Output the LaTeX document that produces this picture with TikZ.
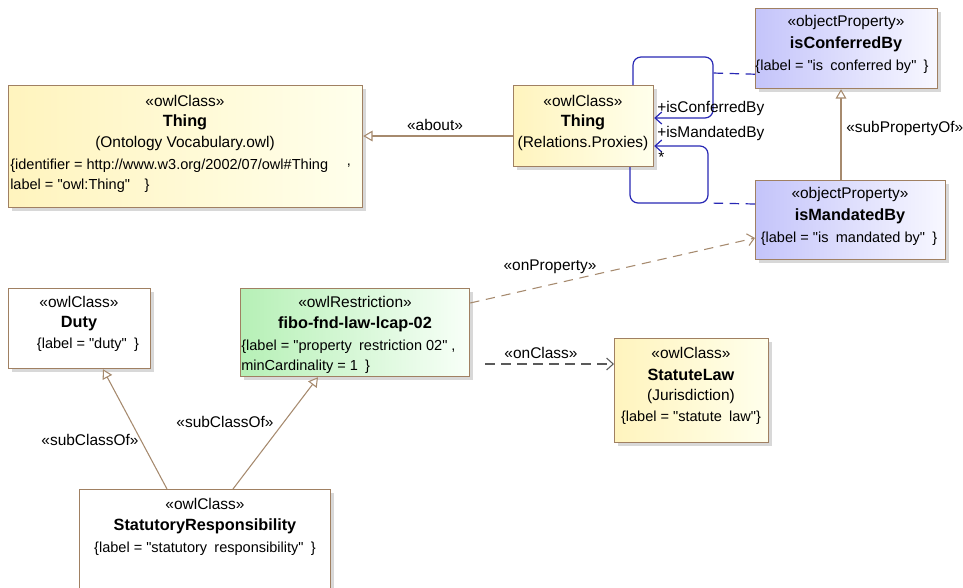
\documentclass[tikz,border=0pt]{standalone}
\usepackage{fontspec}
\setmainfont{Liberation Sans}
\usetikzlibrary{arrows.meta,shadows,calc}
\definecolor{edgec}{RGB}{166,138,110}
\definecolor{boxc}{RGB}{160,128,98}
\definecolor{assoc}{RGB}{40,40,180}
\definecolor{yelL}{RGB}{255,244,190}
\definecolor{yelR}{RGB}{255,255,236}
\definecolor{lavL}{RGB}{196,196,250}
\definecolor{lavR}{RGB}{248,248,255}
\definecolor{grnL}{RGB}{182,240,182}
\definecolor{grnR}{RGB}{248,255,248}
\definecolor{dashc}{RGB}{90,90,90}
\newcommand\dq{\textquotedbl}
\begin{document}
\begin{tikzpicture}[x=0.75pt,y=-0.75pt,
  box/.style={draw=boxc, line width=0.9pt, anchor=north west, inner sep=0pt,
    drop shadow={shadow xshift=2.5pt, shadow yshift=-2.5pt, fill=black!30}},
  sz/.style 2 args={minimum width=#1*0.75pt, minimum height=#2*0.75pt},
  yel/.style={left color=yelL, right color=yelR},
  lav/.style={left color=lavL, right color=lavR},
  grn/.style={left color=grnL, right color=grnR},
  wht/.style={fill=white},
  st/.style={font=\fontsize{11.6}{13}\selectfont, inner sep=0pt},
  nm/.style={font=\fontsize{12.2}{14}\selectfont\bfseries, inner sep=0pt},
  pr/.style={font=\fontsize{10.9}{12}\selectfont, inner sep=0pt},
  lbl/.style={font=\fontsize{11.6}{13}\selectfont, inner sep=0pt},
  gen/.style={draw=edgec, line width=0.8pt, -{Triangle[open,length=7pt,width=8pt,fill=white]}},
  dep/.style={draw=edgec, line width=0.8pt, dash pattern=on 7pt off 5pt, -{Straight Barb[length=5pt,width=9pt]}},
  depg/.style={draw=dashc, line width=0.8pt, dash pattern=on 7pt off 5pt, -{Straight Barb[length=5pt,width=9pt]}},
  asl/.style={draw=assoc, line width=0.9pt, rounded corners=6pt},
  asd/.style={draw=assoc, line width=0.9pt, dash pattern=on 7pt off 5pt},
  asa/.style={-{Straight Barb[length=5pt,width=9pt]}}
]
\useasboundingbox (0,0) rectangle (963,587);

% boxes
\node[box, yel, sz={354}{122}] (thingO) at (8,85) {};
\node[box, yel, sz={140}{81}] (thingP) at (513,85) {};
\node[box, lav, sz={182}{80}] (conf) at (755,8) {};
\node[box, lav, sz={190}{79}] (mand) at (755,180) {};
\node[box, wht, sz={142}{80}] (duty) at (8,288) {};
\node[box, grn, sz={229}{88}] (fibo) at (240,288) {};
\node[box, yel, sz={154}{104}] (stat) at (614,338) {};
\node[box, wht, sz={251}{104}] (sresp) at (79,489) {};

% texts: Thing (Ontology)
\node[st] (tO1) at (185,101) {«owlClass»};
\node[nm] (tO2) at (185,122) {Thing};
\node[st] (tO3) at (185,143) {(Ontology Vocabulary.owl)};
\node[pr, anchor=west] (tO4) at (10,166) {\{identifier = http://www.w3.org/2002/07/owl\#Thing};
\node[pr] (tO5) at (349,166) {,};
\node[pr, anchor=west] (tO6) at (10,186) {label = \dq owl:Thing\dq\quad\}};

% Thing (Relations.Proxies)
\node[st] (tP1) at (583,101) {«owlClass»};
\node[nm] (tP2) at (583,122) {Thing};
\node[st] (tP3) at (583,143) {(Relations.Proxies)};

% isConferredBy
\node[st] (c1) at (846,22) {«objectProperty»};
\node[nm] (c2) at (846,44) {isConferredBy};
\node[pr] (c3) at (842,67) {\{label = \dq is\enspace conferred by\dq\enspace\}};

% isMandatedBy
\node[st] (m1) at (850,194) {«objectProperty»};
\node[nm] (m2) at (850,216) {isMandatedBy};
\node[pr] (m3) at (849,239) {\{label = \dq is\enspace mandated by\dq\enspace\}};

% Duty
\node[st] (d1) at (79,302) {«owlClass»};
\node[nm] (d2) at (79,324) {Duty};
\node[pr] (d3) at (88,345) {\{label = \dq duty\dq\enspace\}};

% fibo restriction
\node[st] (f1) at (355,302) {«owlRestriction»};
\node[nm] (f2) at (355,324) {fibo-fnd-law-lcap-02};
\node[pr, anchor=west] (f3) at (241,347) {\{label = \dq property\enspace restriction 02\dq\ ,};
\node[pr, anchor=west] (f4) at (241,367) {minCardinality = 1\enspace\}};

% Statute Law
\node[st] (s1) at (691,353) {«owlClass»};
\node[nm] (s2) at (691,375) {StatuteLaw};
\node[st] (s3) at (691,396) {(Jurisdiction)};
\node[pr] (s4) at (691,418) {\{label = \dq statute\enspace law\dq\}};

% Statutory responsibility
\node[st] (r1) at (205,504) {«owlClass»};
\node[nm] (r2) at (205,526) {StatutoryResponsibility};
\node[pr] (r3) at (205,549) {\{label = \dq statutory\enspace responsibility\dq\enspace\}};

% connectors
\draw[gen] ($(thingP.north west)+(0,51)$) -- ($(thingO.north east)+(0,51)$);
\node[lbl] (la) at (435,125) {«about»};

\draw[gen] ($(mand.north west)+(86,0)$) -- ($(conf.south west)+(86,0)$);
\node[lbl, anchor=west] (lsp) at (846,128) {«subPropertyOf»};

\draw[gen] ($(sresp.north west)+(88,0)$) -- ($(duty.south west)+(95,0)$);
\node[lbl] (lsc1) at (90,440) {«subClassOf»};
\draw[gen] ($(sresp.north west)+(154,0)$) -- ($(fibo.south west)+(78,0)$);
\node[lbl] (lsc2) at (225,422) {«subClassOf»};

\draw[dep] ($(fibo.north east)+(0,15)$) -- ($(mand.north west)+(0,58)$);
\node[lbl] (lop) at (550,267) {«onProperty»};

\coordinate (oc) at ($(fibo.north east)+(15,76)$);
\draw[depg] (oc) -- ($(stat.north west)+(0,26)$);
\node[lbl] (loc) at (541,353) {«onClass»};

% association loops
\coordinate (j1) at (713,73);
\coordinate (j2) at (708,203);
\draw[asl, asa] ($(thingP.north west)+(120,0)$) |- (713,57) -- (713,118) -- ($(thingP.north east)+(0,33)$);
\draw[asd] ($(conf.south west)+(0,-15)$) -- (j1);
\draw[asl, asa] ($(thingP.south west)+(117,0)$) |- (708,203) -- (708,146) -- ($(thingP.north east)+(0,61)$);
\draw[asd] ($(mand.north west)+(0,24)$) -- (j2);
\node[lbl, anchor=west] (a1) at (657,108) {+isConferredBy};
\node[lbl, anchor=west] (a2) at (657,133) {+isMandatedBy};
\node[lbl, anchor=west] (a3) at (658,157) {*};
\end{tikzpicture}
\end{document}
